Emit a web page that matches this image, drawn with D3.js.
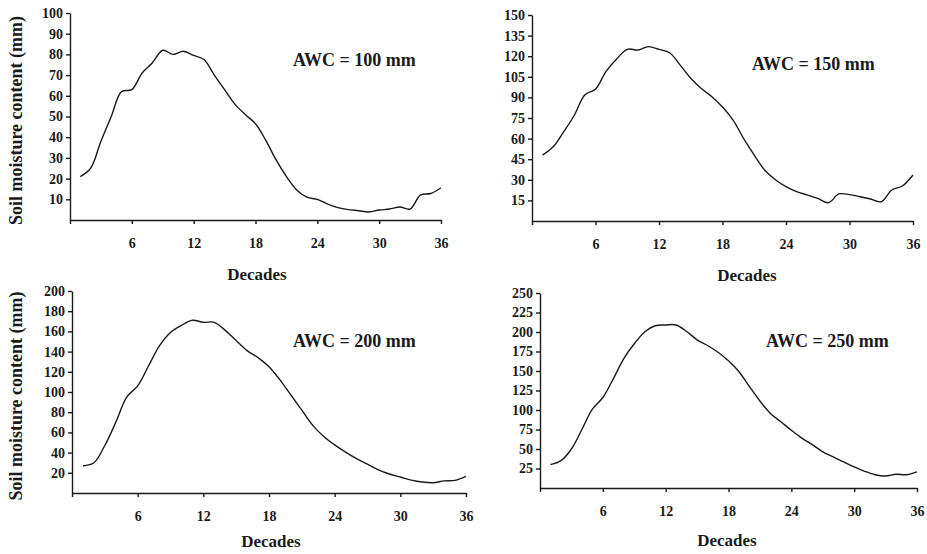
<!DOCTYPE html>
<html>
<head>
<meta charset="utf-8">
<script src="https://cdn.jsdelivr.net/npm/d3@7"></script>
<style>
  body { margin: 0; background: #fff; }
  text { font-family: "Liberation Serif", "Times New Roman", serif; font-weight: bold; fill: #1a1a1a; }
</style>
</head>
<body>
<div class="canvas"></div>
<script>
// decades 1..36 of the year
const decades = d3.range(1, 37);

// soil moisture (mm), one array per AWC
const sm100 = [21, 25, 38, 50, 62, 63, 71, 76, 82, 80, 81.5, 79.5, 77.5, 70, 63, 56, 51, 46.5, 38.5, 29, 21, 14.5, 11, 10, 7.7, 6, 5, 4.5, 3.9, 4.8, 5.3, 6.3, 5.3, 12, 12.8, 15.6];
const sm150 = [48, 54, 65, 77, 92, 96, 109, 118, 125, 124.5, 127, 125, 122.5, 113.5, 104, 96.5, 90.5, 83, 73.5, 60, 48, 37, 30, 25, 21.4, 19, 16.5, 13.3, 19.7, 19.2, 17.7, 16, 14, 22.6, 25.5, 33.5];
const sm200 = [27, 30, 47, 70, 95, 106, 126, 146, 159, 166, 171, 169, 169, 161, 151, 141, 134, 125, 112, 97, 82, 67, 56, 47.7, 40.5, 34, 28.6, 23, 18.8, 15.8, 12.8, 10.9, 10.2, 12, 12.5, 16.4];
const sm250 = [30, 35, 50, 75, 101, 116, 140, 166, 185, 200, 208, 209, 209, 200.7, 190, 182.7, 174, 163, 149, 130, 111.5, 95.6, 85, 74, 64, 55.7, 46.3, 40, 33.4, 27, 21.4, 17, 15.4, 17.6, 17, 20.6];

// tick labels
const xTicks = [0, 6, 12, 18, 24, 30, 36];
const yTicks100 = [10, 20, 30, 40, 50, 60, 70, 80, 90, 100];
const yTicks150 = [15, 30, 45, 60, 75, 90, 105, 120, 135, 150];
const yTicks200 = [20, 40, 60, 80, 100, 120, 140, 160, 180, 200];
const yTicks250 = [25, 50, 75, 100, 125, 150, 175, 200, 225, 250];

const awcLabels = ['AWC = 100 mm', 'AWC = 150 mm', 'AWC = 200 mm', 'AWC = 250 mm'];

// panel layout (pixel boxes of each plot area)
const panels = [
  { values: sm100, yMax: 100, yTicks: yTicks100, label: awcLabels[0], x0: 70, x1: 441, y0: 220, y1: 13, awc: [293, 66], dec: [257, 280], yLabel: true },
  { values: sm150, yMax: 150, yTicks: yTicks150, label: awcLabels[1], x0: 532, x1: 913, y0: 221, y1: 15, awc: [752, 70], dec: [747, 281], yLabel: false },
  { values: sm200, yMax: 200, yTicks: yTicks200, label: awcLabels[2], x0: 72, x1: 466, y0: 493, y1: 291, awc: [293, 347], dec: [271, 547], yLabel: true },
  { values: sm250, yMax: 250, yTicks: yTicks250, label: awcLabels[3], x0: 540, x1: 917, y0: 488, y1: 293, awc: [766, 347], dec: [727, 546], yLabel: false }
];

const svg = d3.select('.canvas')
  .append('svg')
  .attr('width', 927)
  .attr('height', 554);

panels.forEach(p => {
  const x = d3.scaleLinear().domain([0, 36]).range([p.x0, p.x1]);
  const y = d3.scaleLinear().domain([0, p.yMax]).range([p.y0, p.y1]);
  const g = svg.append('g');

  // x axis
  const xAxis = d3.axisBottom(x)
    .tickValues(xTicks)
    .tickSize(4)
    .tickSizeOuter(0)
    .tickPadding(14)
    .tickFormat(d => d === 0 ? '' : d);
  g.append('g')
    .attr('transform', `translate(0, ${p.y0})`)
    .call(xAxis)
    .call(a => a.selectAll('text').style('font-size', '14px').attr('font-family', null))
    .call(a => a.selectAll('path, line').attr('stroke', '#1a1a1a').attr('stroke-width', 1.4));

  // y axis
  const yAxis = d3.axisLeft(y)
    .tickValues(p.yTicks)
    .tickSize(4)
    .tickSizeOuter(0)
    .tickPadding(3);
  g.append('g')
    .attr('transform', `translate(${p.x0}, 0)`)
    .call(yAxis)
    .call(a => a.selectAll('text').style('font-size', '14px').attr('font-family', null))
    .call(a => a.selectAll('path, line').attr('stroke', '#1a1a1a').attr('stroke-width', 1.4));

  // the curve
  const line = d3.line()
    .x((d, i) => x(decades[i]))
    .y(d => y(d))
    .curve(d3.curveCatmullRom.alpha(0.5));
  g.append('path')
    .datum(p.values)
    .attr('d', line)
    .attr('fill', 'none')
    .attr('stroke', '#1a1a1a')
    .attr('stroke-width', 1.4);

  // AWC label
  g.append('text')
    .attr('x', p.awc[0])
    .attr('y', p.awc[1])
    .style('font-size', '18px')
    .text(p.label);

  // x axis title
  g.append('text')
    .attr('x', p.dec[0])
    .attr('y', p.dec[1])
    .attr('text-anchor', 'middle')
    .style('font-size', '17px')
    .text('Decades');

  // y axis title (left column only)
  if (p.yLabel) {
    g.append('text')
      .attr('transform', `translate(22, ${(p.y0 + p.y1) / 2 + 4}) rotate(-90)`)
      .attr('text-anchor', 'middle')
      .style('font-size', '18px')
      .text('Soil moisture content (mm)');
  }
});
</script>
</body>
</html>
